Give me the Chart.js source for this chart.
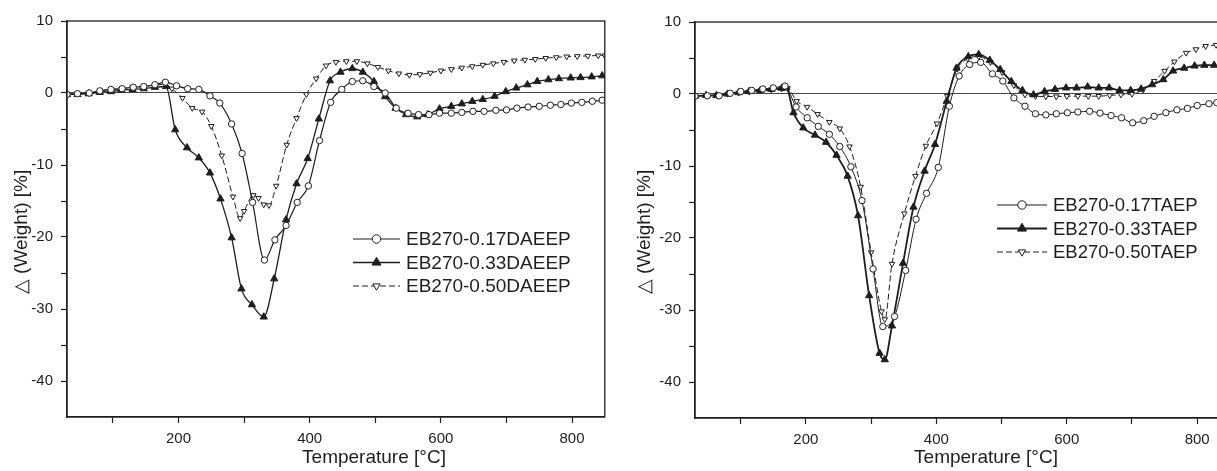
<!DOCTYPE html>
<html>
<head>
<meta charset="utf-8">
<script src="https://cdn.jsdelivr.net/npm/chart.js@4.4.0/dist/chart.umd.min.js"></script>
<style>
  html, body { margin: 0; padding: 0; background: #fff; }
  #wrap { position: relative; width: 1217px; height: 471px; overflow: hidden; }
  #left { position: absolute; left: 0; top: 0; }
  #rightBox { position: absolute; left: 606px; top: 0; width: 611px; height: 471px; overflow: hidden; }
  #right { position: absolute; left: 0; top: 0; }
</style>
</head>
<body>
<div id="wrap">
  <canvas id="left" width="610" height="471"></canvas>
  <div id="rightBox"><canvas id="right" width="629" height="471"></canvas></div>
</div>
<script>
// [temperature °C, Δ weight %]
const daeep017 = [[30,-0.2],[46,-0.1],[64,0],[80,0.3],[97,0.5],[114,0.6],[131,0.8],[147,0.9],[164,1.15],[180,1.5],[197,1.0],[214,0.6],[231,0.5],[248,-0.4],[263,-1.4],[281,-4.3],[297,-8.4],[313,-15.2],[331,-23.2],[347,-20.4],[364,-18.4],[381,-15.2],[398,-12.9],[415,-6.6],[432,-1.3],[449,0.5],[465,1.6],[481,1.7],[498,0.9],[515,0],[532,-2.1],[550,-2.8],[566,-3.0],[582,-3.0],[598,-2.8],[616,-2.8],[632,-2.7],[649,-2.55],[666,-2.55],[684,-2.4],[700,-2.35],[716,-2.1],[733,-1.95],[750,-1.85],[767,-1.7],[783,-1.6],[799,-1.4],[815,-1.3],[831,-1.15],[846,-1.0]];
const daeep033 = [[30,-0.2],[46,-0.2],[63,-0.1],[80,0.1],[97,0.2],[113,0.4],[130,0.5],[147,0.6],[164,0.8],[181,0.9],[195,-5.1],[213,-7.6],[231,-9.0],[248,-11.1],[264,-14.7],[281,-20.1],[296,-27.2],[312,-29.4],[330,-31.1],[346,-25.8],[364,-17.6],[380,-12.6],[397,-9.1],[414,-3.6],[431,1.7],[447,2.9],[465,3.4],[481,2.9],[498,1.6],[515,-0.5],[531,-2.1],[547,-3.0],[564,-3.3],[580,-3.0],[598,-2.2],[616,-1.85],[632,-1.5],[648,-1.15],[664,-0.9],[682,-0.45],[699,0.2],[715,0.7],[732,1.15],[747,1.6],[764,1.85],[780,2.0],[798,2.1],[813,2.15],[830,2.25],[846,2.4]];
const daeep050 = [[30,-0.2],[46,-0.1],[63,0],[80,0.3],[97,0.5],[113,0.6],[130,0.8],[147,0.9],[164,1.1],[180,1.2],[190,0.6],[206,-0.7],[221,-2.1],[236,-2.6],[250,-4.6],[266,-8.7],[283,-14.4],[294,-17.4],[300,-16.4],[314,-14.2],[322,-14.6],[330,-15.5],[338,-15.6],[349,-12.9],[365,-7.2],[380,-3.5],[395,-0.2],[410,2.0],[425,3.8],[440,4.3],[456,4.4],[472,4.4],[488,4.1],[504,3.6],[520,3.1],[536,2.7],[552,2.5],[568,2.6],[584,2.8],[600,3.1],[616,3.3],[632,3.5],[648,3.7],[664,3.9],[680,4.1],[696,4.3],[712,4.5],[728,4.6],[744,4.7],[760,4.85],[776,4.95],[792,5.05],[808,5.1],[824,5.15],[840,5.2],[850,5.2]];

const taep017 = [[30,-0.3],[49,-0.25],[67,-0.25],[84,0.1],[100,0.35],[117,0.5],[134,0.7],[150,0.85],[168,1.1],[185,-1.8],[202,-3.3],[219,-4.5],[236,-5.6],[252,-7.3],[269,-10.1],[286,-14.8],[303,-24.3],[318,-32.3],[336,-30.9],[353,-24.5],[369,-17.4],[385,-13.8],[403,-10.2],[420,-1.7],[435,2.5],[451,4.1],[468,4.4],[486,2.8],[502,1.8],[519,-0.55],[536,-1.7],[552,-2.75],[568,-2.9],[584,-2.75],[601,-2.6],[617,-2.5],[635,-2.4],[651,-2.65],[668,-3.0],[684,-3.3],[701,-4.0],[718,-3.7],[734,-3.1],[752,-2.6],[769,-2.2],[785,-2.0],[800,-1.6],[818,-1.35],[830,-1.2]];
const taep033 = [[30,-0.3],[47,-0.2],[63,-0.2],[80,0],[97,0.2],[113,0.35],[130,0.5],[147,0.65],[163,0.8],[170,0.9],[181,-2.6],[196,-4.7],[214,-5.7],[231,-6.7],[247,-8.5],[264,-11.4],[280,-16.9],[297,-28.0],[313,-36.0],[321,-36.9],[332,-32.2],[349,-23.5],[365,-15.7],[382,-10.7],[398,-7.0],[416,-1.0],[431,3.6],[449,5.2],[465,5.5],[482,4.7],[498,3.4],[515,1.75],[532,0.5],[549,-0.1],[566,0.35],[582,0.65],[599,0.85],[615,0.85],[632,1.0],[649,0.85],[665,0.85],[681,0.5],[698,0.5],[714,0.7],[731,1.3],[748,2.0],[763,3.2],[780,3.6],[796,3.9],[811,4.0],[826,4.0]];
const taep050 = [[30,-0.3],[47,-0.2],[63,-0.15],[80,0],[97,0.15],[113,0.3],[130,0.45],[147,0.6],[163,0.75],[172,0.8],[186,-1.0],[202,-1.8],[218,-2.8],[236,-3.9],[252,-4.8],[267,-7.3],[284,-12.9],[300,-22.0],[316,-30.2],[321,-31.3],[332,-23.6],[351,-16.6],[368,-11.4],[384,-7.2],[401,-4.1],[417,-0.3],[432,3.5],[448,4.9],[465,5.2],[483,4.4],[501,3.0],[519,1.2],[536,-0.1],[552,-0.3],[568,-0.35],[584,-0.35],[600,-0.3],[617,-0.3],[633,-0.3],[649,-0.3],[666,-0.2],[683,-0.1],[700,0],[717,0.6],[734,1.8],[750,3.2],[765,4.5],[783,5.7],[798,6.2],[813,6.65],[829,6.8]];

const leftLabels = ['EB270-0.17DAEEP', 'EB270-0.33DAEEP', 'EB270-0.50DAEEP'];
const rightLabels = ['EB270-0.17TAEP', 'EB270-0.33TAEP', 'EB270-0.50TAEP'];

const xTickMarks = [100, 200, 300, 400, 500, 600, 700, 800];
const xTickLabels = [200, 400, 600, 800];
const yTickMarks = [-40, -35, -30, -25, -20, -15, -10, -5, 0, 5, 10];
const yTickLabels = [-40, -30, -20, -10, 0, 10];

const xTitle = 'Temperature [°C]';
const yTitle = '△ (Weight) [%]';

const INK = '#1e1e1e';
const FONT = '"Liberation Sans", Arial, sans-serif';

function toPoints(pairs) {
  return pairs.map(([x, y]) => ({ x, y }));
}

// three line looks shared by both panels: open circle, filled triangle, open down-triangle
function makeDatasets(labels, series, widths) {
  const looks = [
    { pointStyle: 'circle', pointRotation: 0, pointRadius: 3.2, pointBackgroundColor: '#fff', borderDash: [] },
    { pointStyle: 'triangle', pointRotation: 0, pointRadius: 4.2, pointBackgroundColor: INK, borderDash: [] },
    { pointStyle: 'triangle', pointRotation: 180, pointRadius: 3.2, pointBackgroundColor: '#fff', borderDash: [6, 3] }
  ];
  return series.map((pairs, i) => ({
    label: labels[i],
    data: toPoints(pairs),
    borderColor: INK,
    borderWidth: widths[i],
    pointBorderColor: INK,
    pointBorderWidth: 1,
    cubicInterpolationMode: 'monotone',
    ...looks[i]
  }));
}

const frame = {
  id: 'frame',
  afterDraw(chart) {
    const { ctx, chartArea: a } = chart;
    ctx.save();
    ctx.strokeStyle = INK;
    ctx.lineWidth = 1.3;
    ctx.strokeRect(a.left, a.top, a.right - a.left, a.bottom - a.top);
    ctx.restore();
  }
};

const boxLegend = {
  id: 'boxLegend',
  afterDraw(chart, args, opts) {
    const { ctx } = chart;
    chart.data.datasets.forEach((ds, i) => {
      const y = opts.top + i * opts.rowGap;
      const mid = opts.left + opts.lineLength / 2;
      ctx.save();
      ctx.strokeStyle = ds.borderColor;
      ctx.lineWidth = ds.borderWidth;
      ctx.setLineDash(ds.borderDash || []);
      ctx.beginPath();
      ctx.moveTo(opts.left, y);
      ctx.lineTo(opts.left + opts.lineLength, y);
      ctx.stroke();
      ctx.setLineDash([]);
      ctx.fillStyle = ds.pointBackgroundColor;
      ctx.strokeStyle = ds.pointBorderColor;
      ctx.lineWidth = ds.pointBorderWidth;
      Chart.helpers.drawPoint(ctx, {
        pointStyle: ds.pointStyle,
        rotation: ds.pointRotation,
        radius: ds.pointRadius + 1,
        borderWidth: ds.pointBorderWidth
      }, mid, y);
      ctx.fillStyle = INK;
      ctx.font = opts.font;
      ctx.textBaseline = 'middle';
      ctx.textAlign = 'left';
      ctx.fillText(ds.label, opts.left + opts.lineLength + opts.gap, y + 1);
      ctx.restore();
    });
  }
};

const axisTitles = {
  id: 'axisTitles',
  afterDraw(chart, args, opts) {
    const { ctx } = chart;
    ctx.save();
    ctx.fillStyle = INK;
    ctx.font = opts.font;
    ctx.textAlign = 'center';
    ctx.textBaseline = 'middle';
    ctx.fillText(xTitle, opts.xTitleX, opts.xTitleY);
    ctx.translate(opts.yTitleX, opts.yTitleY);
    ctx.rotate(-Math.PI / 2);
    ctx.fillText(yTitle, 0, 0);
    ctx.restore();
  }
};

function buildChart(canvasId, datasets, layout) {
  return new Chart(document.getElementById(canvasId), {
    type: 'line',
    data: { datasets },
    options: {
      responsive: false,
      animation: false,
      events: [],
      layout: { padding: { left: 0, right: 4, top: layout.top, bottom: 0 } },
      scales: {
        x: {
          type: 'linear',
          min: 30,
          max: 850,
          afterBuildTicks: scale => { scale.ticks = xTickMarks.map(value => ({ value })); },
          afterFit: scale => { scale.height = 471 - layout.bottom; },
          ticks: {
            autoSkip: false,
            maxRotation: 0,
            padding: 7,
            color: INK,
            font: { family: FONT, size: 15 },
            callback: value => (xTickLabels.includes(value) ? String(value) : '')
          },
          grid: { drawOnChartArea: false, tickLength: 6, tickColor: INK, tickWidth: 1.2 },
          border: { color: INK, width: 1.3 }
        },
        y: {
          min: -45,
          max: 10,
          afterBuildTicks: scale => { scale.ticks = yTickMarks.map(value => ({ value })); },
          afterFit: scale => { scale.width = layout.left; },
          ticks: {
            autoSkip: false,
            padding: 8,
            color: INK,
            font: { family: FONT, size: 15 },
            callback: value => (yTickLabels.includes(value) ? String(value) : '')
          },
          grid: {
            drawOnChartArea: true,
            color: ctx => (ctx.tick && ctx.tick.value === 0 ? '#444' : 'rgba(0,0,0,0)'),
            lineWidth: 1,
            tickLength: 6,
            tickColor: INK,
            tickWidth: 1.2
          },
          border: { color: INK, width: 1.3 }
        }
      },
      plugins: {
        legend: { display: false },
        tooltip: { enabled: false },
        boxLegend: layout.legend,
        axisTitles: layout.titles
      }
    },
    plugins: [frame, boxLegend, axisTitles]
  });
}

buildChart('left', makeDatasets(leftLabels, [daeep017, daeep033, daeep050], [1.2, 1.3, 1]), {
  left: 67,
  top: 21,
  bottom: 417,
  legend: { left: 353, top: 239, rowGap: 23.5, lineLength: 47, gap: 6, font: '19px ' + FONT },
  titles: { font: '19px ' + FONT, xTitleX: 374, xTitleY: 458, yTitleX: 22, yTitleY: 232 }
});

buildChart('right', makeDatasets(rightLabels, [taep017, taep033, taep050], [1, 1.8, 1]), {
  left: 89,
  top: 22,
  bottom: 418,
  legend: { left: 391, top: 205, rowGap: 23.5, lineLength: 50, gap: 6, font: '18.5px ' + FONT },
  titles: { font: '19px ' + FONT, xTitleX: 380, xTitleY: 458, yTitleX: 39, yTitleY: 232 }
});
</script>
</body>
</html>
